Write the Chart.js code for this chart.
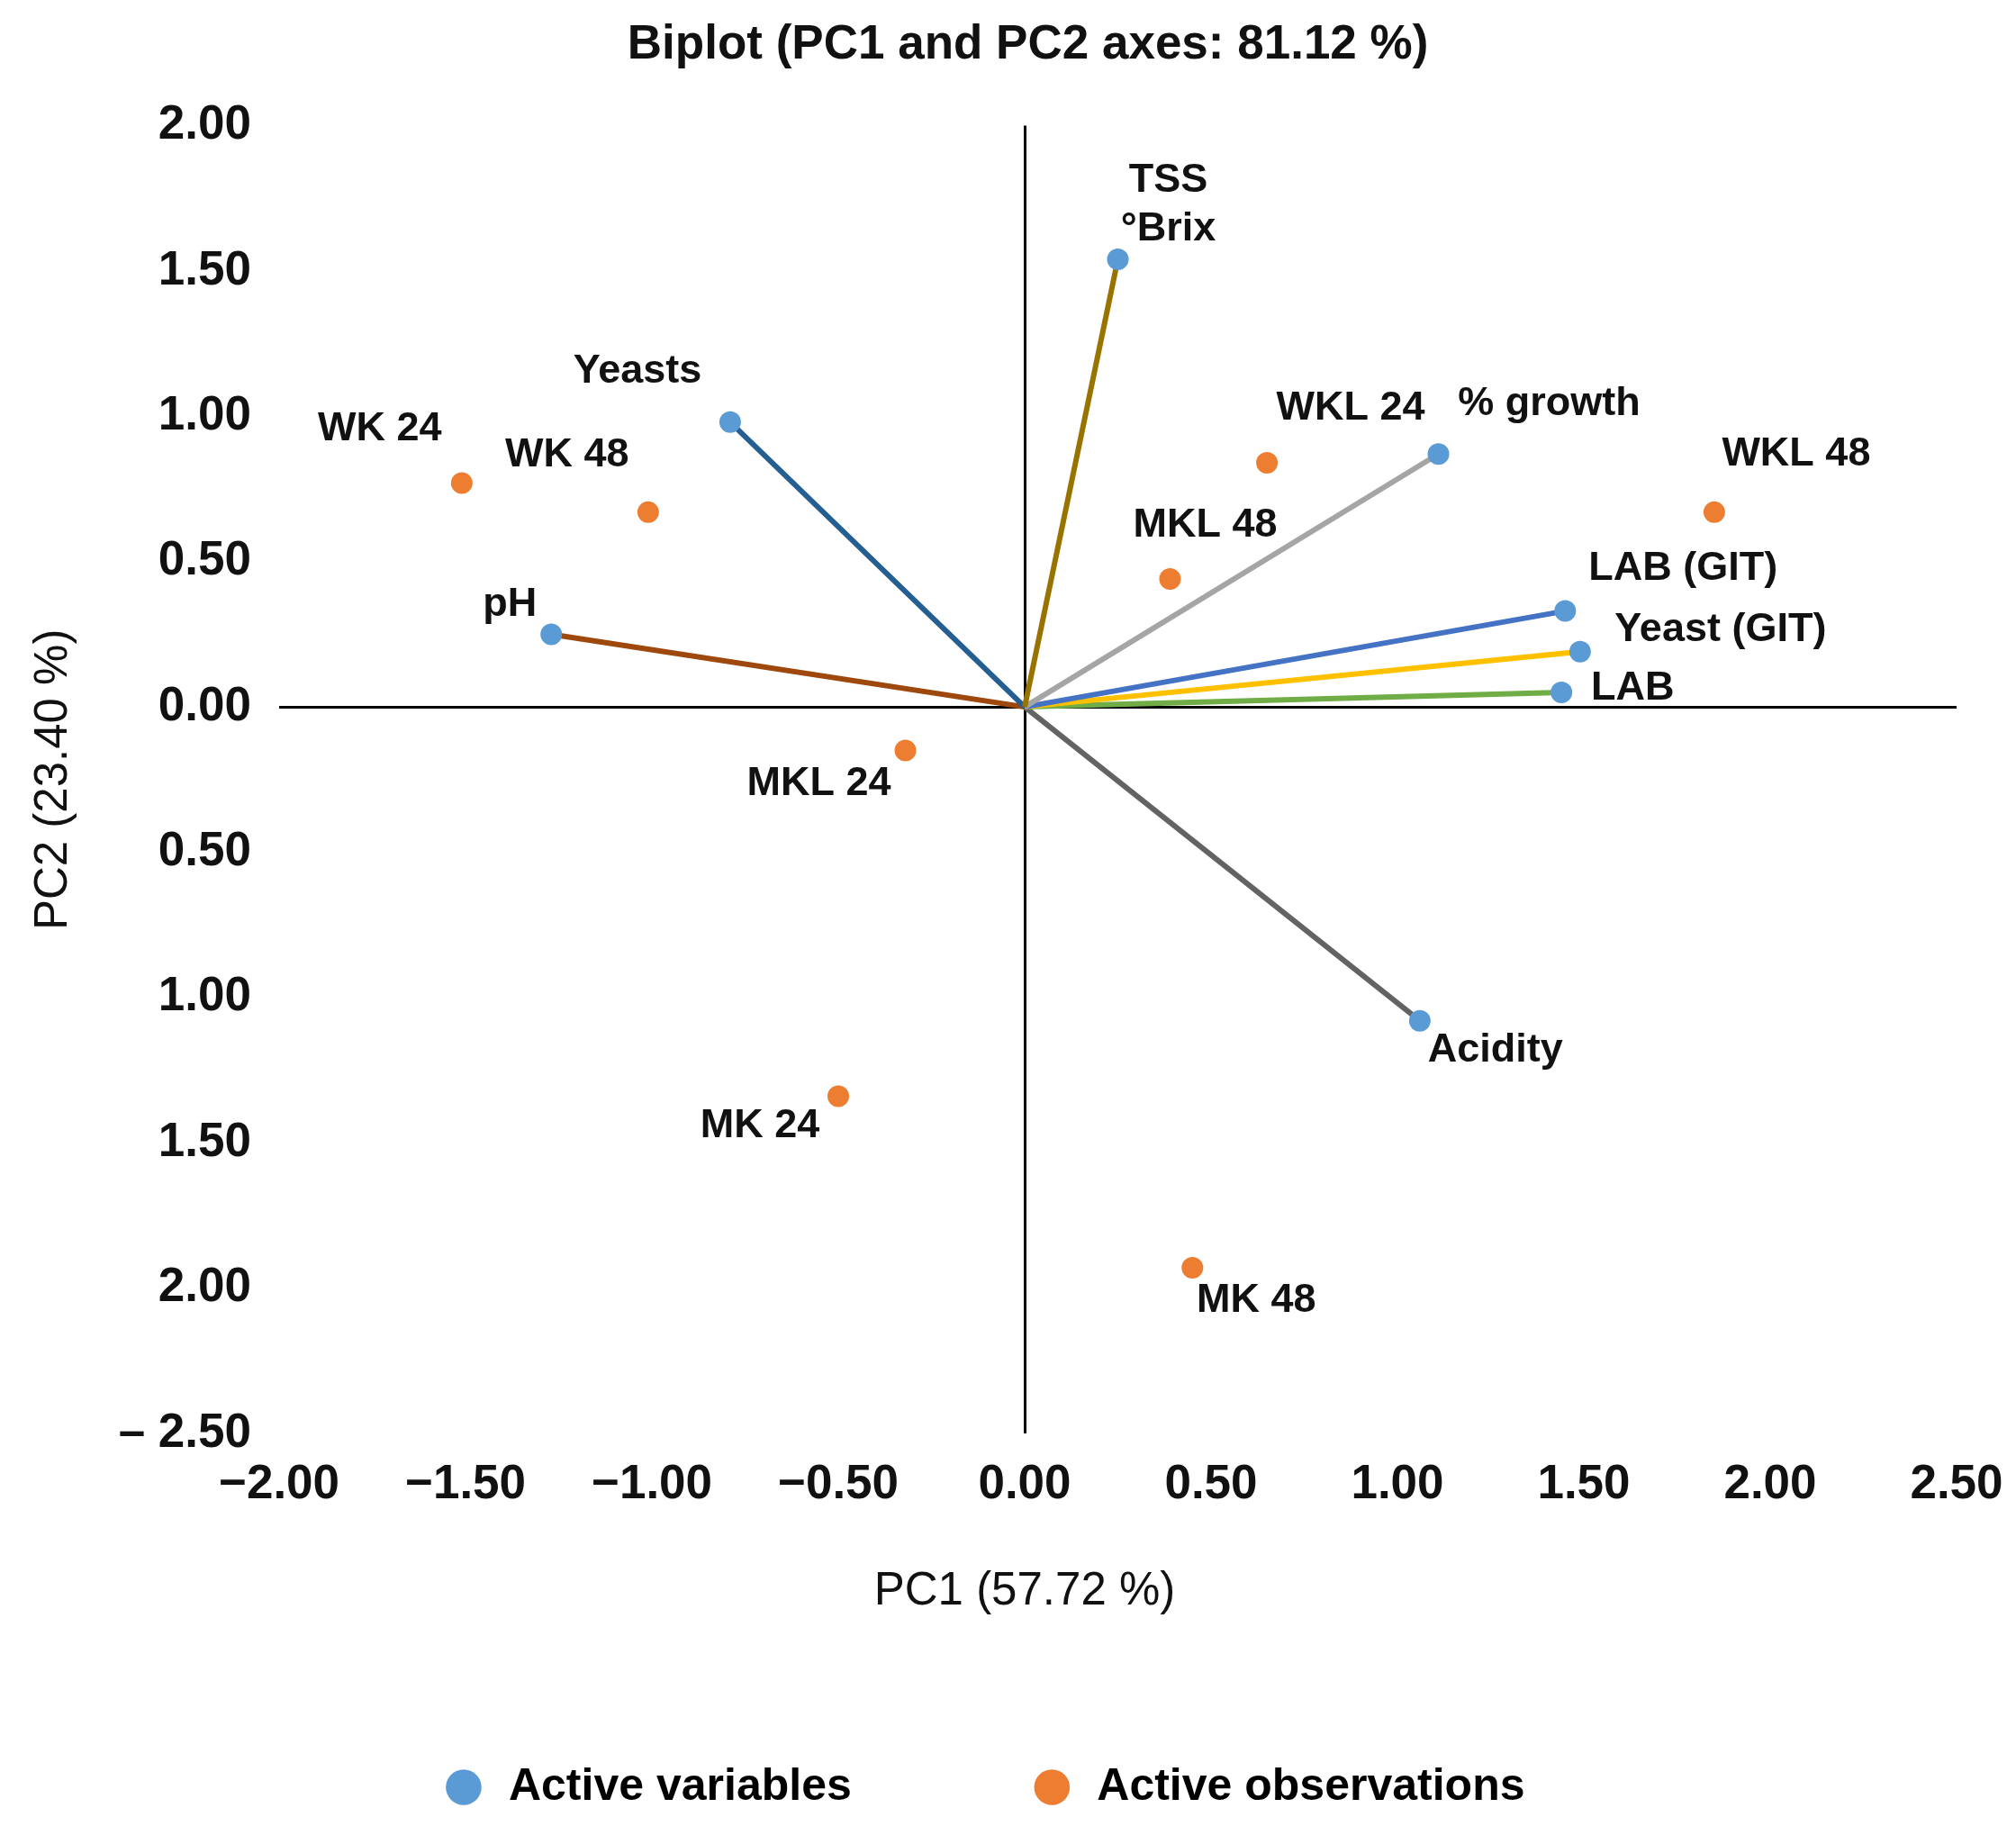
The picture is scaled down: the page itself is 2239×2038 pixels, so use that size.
<!DOCTYPE html>
<html>
<head>
<meta charset="utf-8">
<title>Biplot (PC1 and PC2 axes: 81.12 %)</title>
<script src="https://cdn.jsdelivr.net/npm/chart.js@4.4.1/dist/chart.umd.min.js"></script>
<style>
  html, body { margin: 0; padding: 0; background: #fff; }
  #wrap { width: 2239px; height: 2038px; position: relative; }
</style>
</head>
<body>
<div id="wrap"><canvas id="biplot"></canvas></div>
<script>
// active variables: loadings on PC1 / PC2
const variableNames = ['TSS °Brix', 'Yeasts', '% growth', 'LAB (GIT)', 'Yeast (GIT)', 'LAB', 'pH', 'Acidity'];
const variablePC1 = [0.25, -0.79, 1.11, 1.45, 1.49, 1.44, -1.27, 1.06];
const variablePC2 = [1.54, 0.98, 0.87, 0.33, 0.19, 0.05, 0.25, -1.08];

// active observations: scores on PC1 / PC2
const observationNames = ['WK 24', 'WK 48', 'WKL 24', 'WKL 48', 'MKL 48', 'MKL 24', 'MK 24', 'MK 48'];
const observationPC1 = [-1.51, -1.01, 0.65, 1.85, 0.39, -0.32, -0.50, 0.45];
const observationPC2 = [0.77, 0.67, 0.84, 0.67, 0.44, -0.15, -1.34, -1.93];

// tick labels as printed in the figure (bottom to top / left to right)
const xTickLabels = ['\u22122.00', '\u22121.50', '\u22121.00', '\u22120.50', '0.00', '0.50', '1.00', '1.50', '2.00', '2.50'];
const yTickLabels = ['\u2013 2.50', '2.00', '1.50', '1.00', '0.50', '0.00', '0.50', '1.00', '1.50', '2.00'];

const FONT = '"Liberation Sans", Arial, Helvetica, sans-serif';
const VAR_COLOR = '#5B9BD5';
const OBS_COLOR = '#ED7D31';
const vectorColors = ['#997300', '#255E91', '#A5A5A5', '#4472C4', '#FFC000', '#70AD47', '#9E480E', '#636363'];

// where each label sits relative to its point (px)
const labelOffsets = {
  'TSS °Brix': [56, -60], 'Yeasts': [-103, -56], '% growth': [123, -56],
  'LAB (GIT)': [131, -47], 'Yeast (GIT)': [156, -24], 'LAB': [79, -4],
  'pH': [-46, -33], 'Acidity': [84, 33],
  'WK 24': [-91, -60], 'WK 48': [-90, -63], 'WKL 24': [93, -60], 'WKL 48': [91, -64],
  'MKL 48': [39, -60], 'MKL 24': [-96, 37], 'MK 24': [-87, 33], 'MK 48': [71, 37]
};
const labelLines = { 'TSS °Brix': ['TSS', '°Brix'] };

const datasets = [{
  label: 'Active observations',
  type: 'scatter',
  data: observationPC1.map((x, i) => ({ x: x, y: observationPC2[i] })),
  pointNames: observationNames,
  backgroundColor: OBS_COLOR,
  borderWidth: 0,
  pointRadius: 12,
  pointHoverRadius: 12
}];

variableNames.forEach((name, i) => {
  datasets.push({
    label: name,
    type: 'scatter',
    showLine: true,
    data: [{ x: 0, y: 0 }, { x: variablePC1[i], y: variablePC2[i] }],
    pointNames: [null, name],
    borderColor: vectorColors[i],
    borderWidth: 6,
    pointBackgroundColor: VAR_COLOR,
    pointBorderWidth: 0,
    pointRadius: [0, 12],
    pointHoverRadius: [0, 12]
  });
});

const pointLabels = {
  id: 'pointLabels',
  afterDatasetsDraw(chart) {
    const ctx = chart.ctx;
    ctx.save();
    ctx.font = 'bold 45px ' + FONT;
    ctx.fillStyle = '#111';
    ctx.textAlign = 'center';
    ctx.textBaseline = 'middle';
    chart.data.datasets.forEach((ds, i) => {
      const meta = chart.getDatasetMeta(i);
      ds.pointNames.forEach((name, j) => {
        if (!name) return;
        const pt = meta.data[j];
        const off = labelOffsets[name] || [0, -40];
        const lines = labelLines[name] || [name];
        const lh = 54;
        lines.forEach((line, k) => {
          const dy = (k - (lines.length - 1) / 2) * lh;
          ctx.fillText(line, pt.x + off[0], pt.y + off[1] + dy);
        });
      });
    });
    ctx.restore();
  }
};

// PC1 title is centred on the vertical zero line, as in the figure
const xAxisTitle = {
  id: 'xAxisTitle',
  afterDraw(chart) {
    const xs = chart.scales.x;
    const ctx = chart.ctx;
    ctx.save();
    ctx.font = '51px ' + FONT;
    ctx.fillStyle = '#111';
    ctx.textAlign = 'center';
    ctx.textBaseline = 'middle';
    ctx.fillText('PC1 (57.72 %)', xs.getPixelForValue(0), xs.top + 176);
    ctx.restore();
  }
};

const zeroLine = (ctx) => ctx.tick && ctx.tick.value === 0 ? '#000' : 'rgba(0,0,0,0)';

new Chart(document.getElementById('biplot'), {
  type: 'scatter',
  data: { datasets: datasets },
  plugins: [pointLabels, xAxisTitle],
  options: {
    responsive: true,
    maintainAspectRatio: false,
    animation: false,
    layout: { padding: { top: 0, left: 0, right: 0, bottom: 18 } },
    plugins: {
      title: {
        display: true,
        text: '   Biplot (PC1 and PC2 axes: 81.12 %)',
        color: '#111',
        font: { family: FONT, size: 53, weight: 'bold' },
        padding: { top: 19, bottom: 57 }
      },
      legend: {
        position: 'bottom',
        labels: {
          usePointStyle: true,
          boxWidth: 50,
          boxHeight: 28,
          padding: 142,
          color: '#111',
          font: { family: FONT, size: 50, weight: 'bold' },
          generateLabels: () => [
            { text: 'Active variables    ', fillStyle: VAR_COLOR, strokeStyle: VAR_COLOR, lineWidth: 0, pointStyle: 'circle', hidden: false, datasetIndex: 1 },
            { text: 'Active observations    ', fillStyle: OBS_COLOR, strokeStyle: OBS_COLOR, lineWidth: 0, pointStyle: 'circle', hidden: false, datasetIndex: 0 }
          ]
        },
        onClick: () => {}
      },
      tooltip: { enabled: false }
    },
    scales: {
      x: {
        type: 'linear',
        position: 'bottom',
        min: -2,
        max: 2.5,
        border: { display: false },
        grid: { color: zeroLine, lineWidth: 3, drawTicks: false },
        ticks: {
          stepSize: 0.5,
          padding: 26,
          maxRotation: 0,
          autoSkip: false,
          color: '#111',
          font: { family: FONT, size: 53, weight: 'bold' },
          callback: (v, i) => xTickLabels[i]
        },
        afterFit: (scale) => { scale.height = 226; scale.paddingRight = 66; }
      },
      y: {
        type: 'linear',
        position: 'left',
        min: -2.5,
        max: 2,
        border: { display: false },
        grid: { color: zeroLine, lineWidth: 3, drawTicks: false },
        ticks: {
          stepSize: 0.5,
          padding: 31,
          autoSkip: false,
          color: '#111',
          font: { family: FONT, size: 53, weight: 'bold' },
          callback: (v, i) => yTickLabels[i]
        },
        title: {
          display: true,
          text: 'PC2 (23.40 %)',
          color: '#111',
          font: { family: FONT, size: 51 },
          padding: { top: 29, bottom: 0 }
        },
        afterFit: (scale) => { scale.width = 310; }
      }
    }
  }
});
</script>
</body>
</html>
